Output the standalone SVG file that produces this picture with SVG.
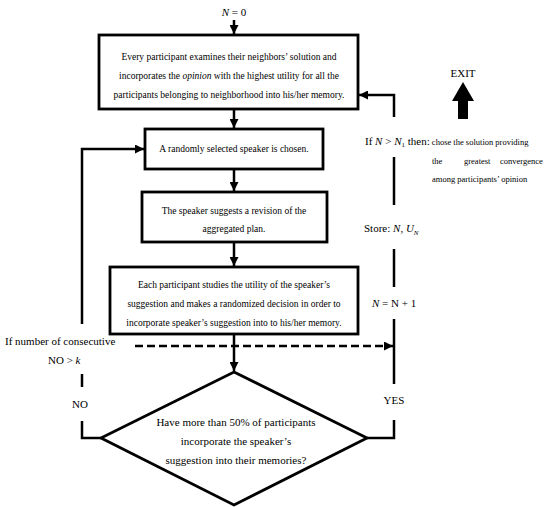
<svg xmlns="http://www.w3.org/2000/svg" width="550" height="507" viewBox="0 0 550 507" font-family="'Liberation Serif','Times New Roman',serif">
<defs>
<marker id="ah" viewBox="0 0 10 10" refX="10" refY="5" markerWidth="3.6" markerHeight="3.6" markerUnits="strokeWidth" orient="auto">
<path d="M0,0 L10,5 L0,10 z" fill="#000"/>
</marker>
<style>
.box{fill:#fff;stroke:#000;stroke-width:2.8}
.ln{fill:none;stroke:#000;stroke-width:2.5}
.arr{fill:none;stroke:#000;stroke-width:2.5;marker-end:url(#ah)}
.dash{fill:none;stroke:#000;stroke-width:2.5;stroke-dasharray:8 4;marker-end:url(#ah)}
text{font-family:"Liberation Serif","Times New Roman",serif;fill:#000}
.t9{font-size:9.5px;text-anchor:middle}
.t11{font-size:11px}
.tc{text-anchor:middle}
.i{font-style:italic}
</style>
</defs>
<rect width="550" height="507" fill="#fff"/>
<g id="connectors">
<path class="arr" d="M234,20 V34"/>
<path class="arr" d="M234,110 V128"/>
<path class="arr" d="M234,170 V191"/>
<path class="arr" d="M234,243 V266"/>
<path class="arr" d="M234,335 V371"/>
<path class="arr" d="M82,324 V149 H144"/>
<path class="ln" d="M82,374 V387"/>
<path class="ln" d="M82,421 V438 H101"/>
<path class="arr" d="M394,117 V95 H359"/>
<path class="ln" d="M394,157 V205"/>
<path class="ln" d="M394,249 V287"/>
<path class="ln" d="M394,319 V384"/>
<path class="ln" d="M394,420 V438 H367"/>
<path class="dash" d="M135,346 H393"/>
</g>
<g id="start">
<text class="t11 tc" x="234" y="16"><tspan class="i">N</tspan> = 0</text>
</g>
<g id="box1">
<rect class="box" x="99" y="35" width="259" height="74"/>
<text class="t9" x="229" y="60">Every participant examines their neighbors’ solution and</text>
<text class="t9" x="229" y="79">incorporates the <tspan class="i">opinion</tspan> with the highest utility for all the</text>
<text class="t9" x="229" y="98">participants belonging to neighborhood into his/her memory.</text>
</g>
<g id="box2">
<rect class="box" x="145" y="129" width="178" height="40"/>
<text class="t9" x="234" y="152">A randomly selected speaker is chosen.</text>
</g>
<g id="box3">
<rect class="box" x="142" y="192" width="185" height="50"/>
<text class="t9" x="234" y="214">The speaker suggests a revision of the</text>
<text class="t9" x="234" y="232">aggregated plan.</text>
</g>
<g id="box4">
<rect class="box" x="110" y="267" width="248" height="67"/>
<text class="t9" x="234" y="288">Each participant studies the utility of the speaker’s</text>
<text class="t9" x="234" y="307">suggestion and makes a randomized decision in order to</text>
<text class="t9" x="234" y="326">incorporate speaker’s suggestion into to his/her memory.</text>
</g>
<g id="decision">
<path class="box" d="M234,372 L367,438 L234,505 L101,438 Z"/>
<text class="t11 tc" x="236" y="426">Have more than 50% of participants</text>
<text class="t11 tc" x="236" y="445">incorporate the speaker’s</text>
<text class="t11 tc" x="236" y="464">suggestion into their memories?</text>
</g>
<g id="exit">
<text class="t11 tc" x="463" y="77">EXIT</text>
<path d="M463,82 L474,101 L468,101 L468,119 L458,119 L458,101 L452,101 Z" fill="#000"/>
</g>
<g id="labels">
<text class="t11" x="5" y="345">If number of consecutive</text>
<text class="t11" x="48" y="364">NO &gt; <tspan class="i">k</tspan></text>
<text class="t11 tc" x="80" y="408">NO</text>
<text class="t11 tc" x="394" y="404">YES</text>
<text class="t11" x="365" y="145">If <tspan class="i">N</tspan> &gt; <tspan class="i">N</tspan><tspan font-size="7" dy="2">1</tspan><tspan dy="-2"> then:</tspan><tspan font-size="8.5"> chose the solution providing</tspan></text>
<text font-size="8.5" y="164"><tspan x="432">the</tspan><tspan x="464">greatest</tspan><tspan x="500">convergence</tspan></text>
<text font-size="8.5" x="432" y="182">among participants’ opinion</text>
<text class="t11" x="364" y="232">Store: <tspan class="i">N</tspan>, <tspan class="i">U</tspan><tspan class="i" font-size="7" dy="3">N</tspan></text>
<text class="t11" x="372" y="307"><tspan class="i">N</tspan> = N + 1</text>
</g>
</svg>
